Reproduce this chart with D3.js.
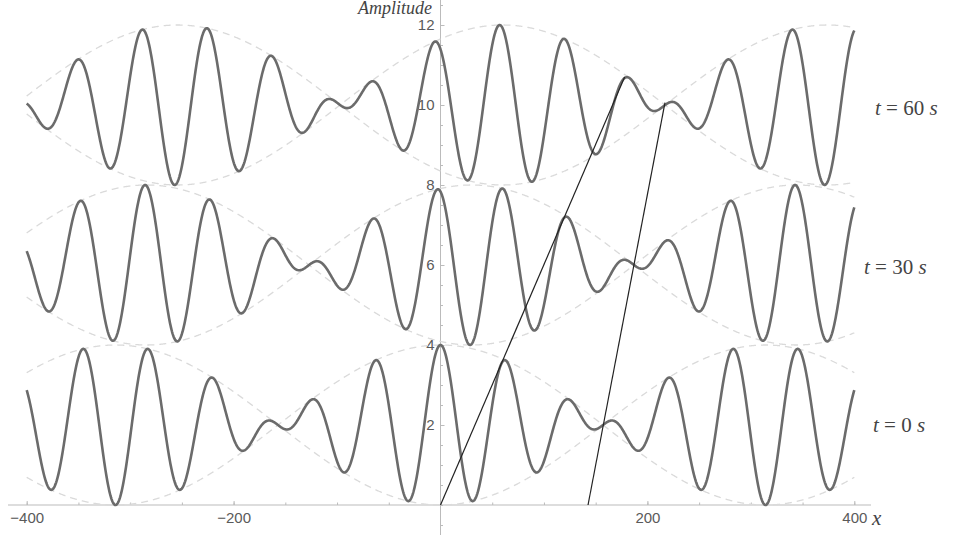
<!DOCTYPE html>
<html>
<head>
<meta charset="utf-8">
<script src="https://cdn.jsdelivr.net/npm/d3@7"></script>
<style>
  html, body { margin: 0; padding: 0; background: #fff; }
  svg { display: block; }
  .tick text { font-family: "Liberation Sans", Arial, sans-serif; font-size: 15px; fill: #5a5a5a; }
  .serif { font-family: "Liberation Serif", "DejaVu Serif", serif; fill: #444; }
</style>
</head>
<body>
<svg id="chart" width="954" height="535"></svg>
<script>
// Two superposed cosine waves: y = offset + cos(k1 x - w1 t) + cos(k2 x - w2 t)
const waveNumbers = [0.11, 0.09];          // k1, k2 (rad per unit x)
const angularFreqs = [0.21, 0.19];         // w1, w2 (rad per s)
const snapshotTimes = [0, 30, 60];         // s
const baselineOffsets = [2, 6, 10];        // vertical offset of each snapshot
const snapshotLabels = ["0", "30", "60"];
const xRange = [-400, 400];
const xTickValues = [-400, -200, 200, 400];
const xMinorTickValues = d3.range(-400, 401, 50);
const yTickValues = [2, 4, 6, 8, 10, 12];
const yMinorTickValues = d3.range(-0.5, 12.51, 0.5);
// Straight guide lines traced across the snapshots (phase and group motion)
const phaseLine = [[0, 0], [178, 10.7]];
const groupLine = [[142.6, 0], [217, 10.06]];

const svg = d3.select("#chart");

const x = d3.scaleLinear().domain([-400, 400]).range([26.7, 854.3]);
const y = d3.scaleLinear().domain([0, 12]).range([505, 25]);

const samples = d3.range(xRange[0], xRange[1] + 0.001, 0.5);

function wave(xv, t, off) {
  return off + Math.cos(waveNumbers[0] * xv - angularFreqs[0] * t)
             + Math.cos(waveNumbers[1] * xv - angularFreqs[1] * t);
}
function envelope(xv, t) {
  const dk = (waveNumbers[0] - waveNumbers[1]) / 2;
  const dw = (angularFreqs[0] - angularFreqs[1]) / 2;
  return 2 * Math.cos(dk * xv - dw * t);
}

const line = d3.line().x(d => x(d[0])).y(d => y(d[1]));

// axes
const xAxisG = svg.append("g").attr("transform", `translate(0,${y(0)})`);
xAxisG.append("line").attr("x1", 8).attr("x2", 871).attr("y1", 0).attr("y2", 0)
  .attr("stroke", "#bbb").attr("stroke-width", 1);
xAxisG.call(g => {
  const minor = d3.axisBottom(x).tickValues(xMinorTickValues).tickSize(-2.5).tickFormat("");
  const sub = g.append("g").call(minor);
  sub.select(".domain").remove();
  sub.selectAll(".tick line").attr("stroke", "#bbb");
  const major = d3.axisBottom(x).tickValues(xTickValues).tickSize(-4).tickPadding(7);
  const mg = g.append("g").call(major);
  mg.select(".domain").remove();
  mg.selectAll(".tick line").attr("stroke", "#bbb");
});

const yAxisG = svg.append("g").attr("transform", `translate(${x(0)},0)`);
yAxisG.append("line").attr("x1", 0).attr("x2", 0).attr("y1", 0).attr("y2", 535)
  .attr("stroke", "#bbb").attr("stroke-width", 1);
yAxisG.call(g => {
  const minor = d3.axisLeft(y).tickValues(yMinorTickValues).tickSize(-2.5).tickFormat("");
  const sub = g.append("g").call(minor);
  sub.select(".domain").remove();
  sub.selectAll(".tick line").attr("stroke", "#bbb");
  const major = d3.axisLeft(y).tickValues(yTickValues).tickSize(-4).tickPadding(6);
  const mg = g.append("g").call(major);
  mg.select(".domain").remove();
  mg.selectAll(".tick line").attr("stroke", "#bbb");
});

// envelopes (dashed)
snapshotTimes.forEach((t, i) => {
  const off = baselineOffsets[i];
  [1, -1].forEach(sign => {
    svg.append("path")
      .attr("d", line(samples.map(xv => [xv, off + sign * envelope(xv, t)])))
      .attr("fill", "none")
      .attr("stroke", "#dadada")
      .attr("stroke-width", 1.3)
      .attr("stroke-dasharray", "7,5");
  });
});

// waves
snapshotTimes.forEach((t, i) => {
  svg.append("path")
    .attr("d", line(samples.map(xv => [xv, wave(xv, t, baselineOffsets[i])])))
    .attr("fill", "none")
    .attr("stroke", "#6b6b6b")
    .attr("stroke-width", 2.6)
    .attr("stroke-linejoin", "round");
});

// guide lines
[phaseLine, groupLine].forEach(l => {
  svg.append("path").attr("d", line(l))
    .attr("fill", "none").attr("stroke", "#222").attr("stroke-width", 1.2);
});

// axis titles
svg.append("text").attr("class", "serif")
  .attr("x", 432).attr("y", 14).attr("text-anchor", "end")
  .attr("font-size", 18).attr("font-style", "italic").text("Amplitude");
svg.append("text").attr("class", "serif")
  .attr("x", 872).attr("y", 525)
  .attr("font-size", 21).attr("font-style", "italic").text("x");

// snapshot labels
const labelPos = [[873, 432], [864, 274], [875, 115]];
snapshotLabels.forEach((s, i) => {
  const tEl = svg.append("text").attr("class", "serif")
    .attr("x", labelPos[i][0]).attr("y", labelPos[i][1])
    .attr("font-size", 21);
  tEl.append("tspan").attr("font-style", "italic").text("t");
  tEl.append("tspan").text(" = " + s + " ");
  tEl.append("tspan").attr("font-style", "italic").text("s");
});
</script>
</body>
</html>
